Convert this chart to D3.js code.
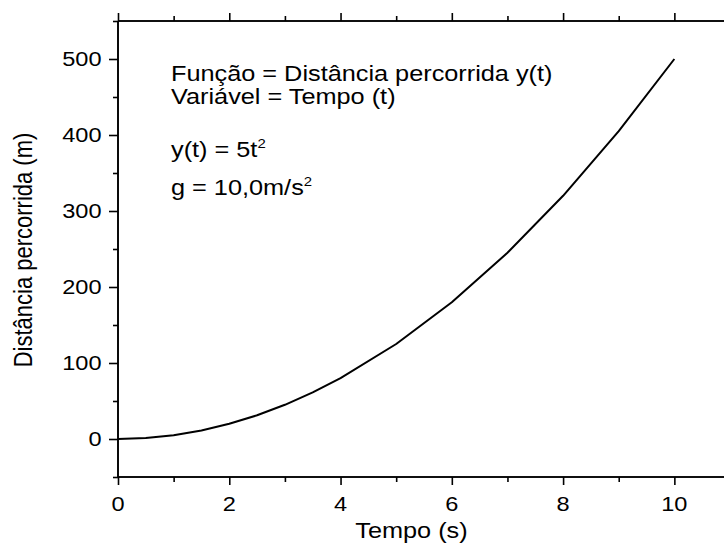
<!DOCTYPE html>
<html>
<head>
<meta charset="utf-8">
<script src="https://cdn.jsdelivr.net/npm/d3@7"></script>
<style>
html,body{margin:0;padding:0;background:#fff;}
svg{display:block;font-family:"Liberation Sans",Arial,sans-serif;}
</style>
</head>
<body>
<svg id="chart" width="724" height="547"></svg>
<script>
const tempo = [0, 0.5, 1, 1.5, 2, 2.5, 3, 3.5, 4, 5, 6, 7, 8, 9, 10];
const distancia = [0, 1.25, 5, 11.25, 20, 31.25, 45, 61.25, 80, 125, 180, 245, 320, 405, 500];
const xTicks = [0, 2, 4, 6, 8, 10];
const xMinor = [1, 3, 5, 7, 9];
const yTicks = [0, 100, 200, 300, 400, 500];
const yMinor = [-50, 50, 150, 250, 350, 450, 550];
const xTitle = "Tempo (s)";
const yTitle = "Distância percorrida (m)";

const SX = 1.15; // horizontal stretch of the original raster

const svg = d3.select("#chart");
const x = d3.scaleLinear().domain([0, 11]).range([118, 730]);
const y = d3.scaleLinear().domain([-50, 550]).range([477, 21]);

// axes (lines and ticks only)
function ax(gen, tx, ty, vals, size) {
  const g = svg.append("g").attr("transform", `translate(${tx},${ty})`)
    .call(gen.tickValues(vals).tickSize(size).tickFormat(""));
  g.selectAll(".tick text").remove();
  return g;
}
const gB = ax(d3.axisBottom(x), 0, y(-50), xTicks, 8);
const gBm = ax(d3.axisBottom(x), 0, y(-50), xMinor, 5);
const gT = ax(d3.axisTop(x), 0, y(550), xTicks, 8);
const gTm = ax(d3.axisTop(x), 0, y(550), xMinor, 5);
const gL = ax(d3.axisLeft(y), x(0), 0, yTicks, 9);
const gLm = ax(d3.axisLeft(y), x(0), 0, yMinor, 5);

svg.selectAll(".domain").attr("stroke", "#000").attr("stroke-width", 1.6);
svg.selectAll(".tick line").attr("stroke", "#000").attr("stroke-width", 1.6);
[gB, gBm, gT, gTm].forEach(g => g.select(".domain").attr("d", `M${x(0)},0H${x(11)}`));
[gL, gLm].forEach(g => g.select(".domain").attr("d", `M0,${y(-50)}V${y(550)}`));

// stretched text helper
function stext(px, py, str, size, anchor, rot) {
  const g = svg.append("g").attr("transform",
    `translate(${px},${py}) scale(${SX},1)` + (rot ? ` rotate(${rot})` : ""));
  return g.append("text").attr("x", 0).attr("y", 0)
    .attr("font-size", size).attr("text-anchor", anchor || "start")
    .attr("fill", "#000").text(str);
}

// tick labels
xTicks.forEach(v => stext(x(v), 511, d3.format("d")(v), 20.5, "middle"));
yTicks.forEach(v => stext(101.5, y(v) + 7.4, d3.format("d")(v), 20.5, "end"));

// curve
const pts = tempo.map((t, i) => [t, distancia[i]]);
svg.append("path")
  .datum(pts)
  .attr("fill", "none")
  .attr("stroke", "#000")
  .attr("stroke-width", 2)
  .attr("stroke-linejoin", "round")
  .attr("d", d3.line().x(d => x(d[0])).y(d => y(d[1])));

// axis titles
stext(411.5, 538, xTitle, 22, "middle");
stext(32, 250, yTitle, 22, "middle", -90);

// annotations
stext(171, 81, "Função = Distância percorrida y(t)", 22, "start");
stext(171, 103.5, "Variável = Tempo (t)", 22, "start");
const t3 = stext(171, 157, "", 22, "start");
t3.append("tspan").text("y(t) = 5t");
t3.append("tspan").attr("font-size", 13).attr("dy", -9).text("2");
const t4 = stext(171, 195, "", 22, "start");
t4.append("tspan").text("g = 10,0m/s");
t4.append("tspan").attr("font-size", 13).attr("dy", -9).text("2");
</script>
</body>
</html>
